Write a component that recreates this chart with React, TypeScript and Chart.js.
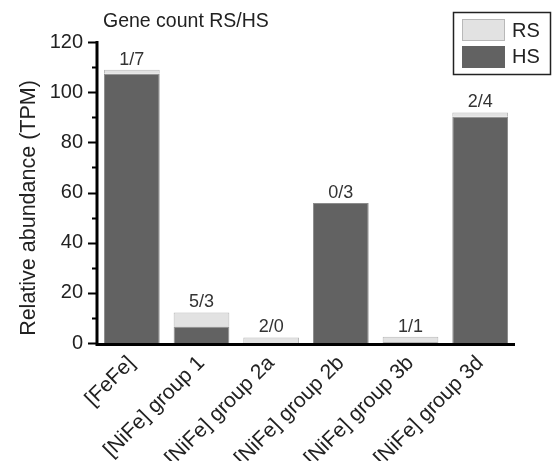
import React, { useEffect, useRef } from "react";
import { Chart, registerables } from "chart.js";

Chart.register(...registerables);

const categories = [
  "[FeFe]",
  "[NiFe] group 1",
  "[NiFe] group 2a",
  "[NiFe] group 2b",
  "[NiFe] group 3b",
  "[NiFe] group 3d",
];
const hsValues = [107.3, 6.6, 0, 55.8, 0.3, 90.2];
const rsValues = [1.6, 5.6, 2.2, 0, 2.2, 1.7];
const rsCounts = [1, 5, 2, 0, 1, 2];
const hsCounts = [7, 3, 0, 3, 1, 4];
const yMajorTicks = [0, 20, 40, 60, 80, 100, 120];
const yMinorTicks = [10, 30, 50, 70, 90, 110];

const FONT = "'Liberation Sans', Arial, sans-serif";
const HS_FILL = "#626262";
const HS_BORDER = "#8c8c8c";
const RS_FILL = "#e2e2e2";
const RS_BORDER = "#b8b8b8";

export default function App() {
  const ref = useRef<HTMLCanvasElement | null>(null);

  useEffect(() => {
    document.body.style.margin = "0";
    const canvas = ref.current;
    if (!canvas) return;

    const overlay = {
      id: "overlay",
      afterDatasetsDraw(chart: any) {
        const ctx = chart.ctx;
        const x = chart.scales.x;
        const y = chart.scales.y;
        const area = chart.chartArea;
        ctx.save();
        // axes
        ctx.strokeStyle = "#000";
        ctx.lineWidth = 3;
        ctx.beginPath();
        ctx.moveTo(area.left, y.getPixelForValue(120) - 1);
        ctx.lineTo(area.left, area.bottom + 1.5);
        ctx.lineTo(area.right, area.bottom + 1.5);
        ctx.stroke();
        // ticks
        ctx.lineWidth = 2;
        ctx.beginPath();
        yMajorTicks.forEach((v) => {
          const py = Math.round(y.getPixelForValue(v)) + 0.5;
          ctx.moveTo(area.left - 9, py);
          ctx.lineTo(area.left, py);
        });
        yMinorTicks.forEach((v) => {
          const py = Math.round(y.getPixelForValue(v)) + 0.5;
          ctx.moveTo(area.left - 5, py);
          ctx.lineTo(area.left, py);
        });
        ctx.stroke();

        // bar labels
        ctx.fillStyle = "#333";
        ctx.font = `18px ${FONT}`;
        ctx.textAlign = "center";
        ctx.textBaseline = "alphabetic";
        categories.forEach((_, i) => {
          const total = hsValues[i] + rsValues[i];
          const px = x.getPixelForValue(i);
          const py = y.getPixelForValue(total);
          ctx.fillText(`${rsCounts[i]}/${hsCounts[i]}`, px, py - 5);
        });

        // y axis title
        ctx.save();
        ctx.translate(29, 208);
        ctx.rotate(-Math.PI / 2);
        ctx.textAlign = "center";
        ctx.textBaseline = "middle";
        ctx.fillStyle = "#222";
        ctx.font = `21.5px ${FONT}`;
        ctx.fillText("Relative abundance (TPM)", 0, 0);
        ctx.restore();

        // title
        ctx.textAlign = "left";
        ctx.textBaseline = "middle";
        ctx.fillStyle = "#222";
        ctx.font = `19.5px ${FONT}`;
        ctx.fillText("Gene count RS/HS", 103, 22);

        // legend
        ctx.lineWidth = 1.5;
        ctx.strokeStyle = "#222";
        ctx.strokeRect(453.5, 12.5, 97, 62);
        ctx.lineWidth = 1;
        ctx.fillStyle = RS_FILL;
        ctx.fillRect(462, 19, 43, 22);
        ctx.strokeStyle = RS_BORDER;
        ctx.strokeRect(462.5, 19.5, 42, 21);
        ctx.fillStyle = HS_FILL;
        ctx.fillRect(462, 46, 43, 22);
        ctx.fillStyle = "#222";
        ctx.font = `20px ${FONT}`;
        ctx.fillText("RS", 512, 31);
        ctx.fillText("HS", 512, 57);
        ctx.restore();
      },
    };

    const chart = new Chart(canvas, {
      type: "bar",
      data: {
        labels: categories,
        datasets: [
          {
            label: "HS",
            data: hsValues,
            backgroundColor: HS_FILL,
            borderColor: HS_BORDER,
            borderWidth: 1,
            barPercentage: 0.8,
            categoryPercentage: 1,
          },
          {
            label: "RS",
            data: rsValues,
            backgroundColor: RS_FILL,
            borderColor: RS_BORDER,
            borderWidth: 1,
            barPercentage: 0.8,
            categoryPercentage: 1,
          },
        ],
      },
      options: {
        responsive: false,
        animation: false,
        devicePixelRatio: 1,
        layout: { padding: { top: 42, right: 37, left: 0, bottom: 0 } },
        plugins: {
          legend: { display: false },
          tooltip: { enabled: false },
          title: { display: false },
        },
        scales: {
          x: {
            stacked: true,
            grid: { display: false, drawTicks: false },
            border: { display: false },
            ticks: {
              minRotation: 45,
              maxRotation: 45,
              padding: 8,
              color: "#222",
              font: { family: FONT, size: 21 },
            },
            afterFit(scale: any) {
              scale.height = 118;
            },
          },
          y: {
            stacked: true,
            min: 0,
            max: 120,
            grid: { display: false, drawTicks: false },
            border: { display: false },
            ticks: {
              stepSize: 20,
              padding: 14,
              color: "#222",
              font: { family: FONT, size: 20 },
            },
            afterFit(scale: any) {
              scale.width = 97;
            },
          },
        },
      },
      plugins: [overlay],
    });
    return () => chart.destroy();
  }, []);

  return <canvas ref={ref} width={552} height={461} style={{ display: "block" }} />;
}
